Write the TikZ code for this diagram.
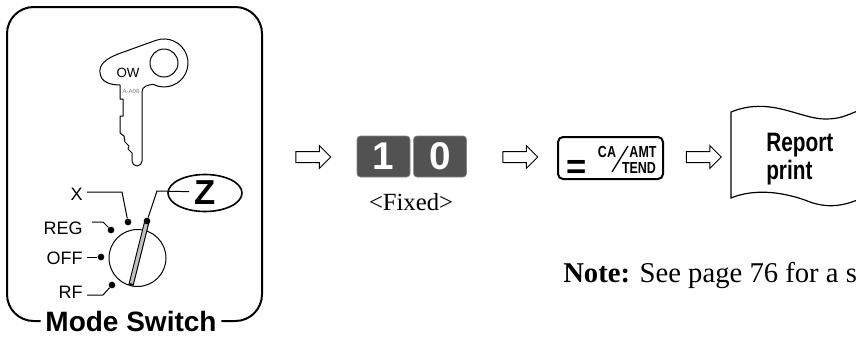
\documentclass[tikz,border=0pt]{standalone}
\usepackage{fontspec}
\setmainfont{Liberation Serif}
\newfontfamily\arialsf{Liberation Sans}
\newfontfamily\narrowsf[FakeStretch=0.78]{Liberation Sans}
\usetikzlibrary{positioning,shapes.geometric,shapes.arrows}
\definecolor{keygray}{RGB}{82,82,82}
\definecolor{levergray}{RGB}{192,192,192}
\tikzset{
  frame/.style={line width=1.5pt,rounded corners=20pt},
  keyline/.style={line width=0.75pt,fill=white,line join=round},
  wire/.style={line width=0.75pt},
  seldot/.style={circle,fill,inner sep=0pt,minimum size=5pt},
  modelbl/.style={font=\arialsf\fontsize{13.5}{13.5}\selectfont,inner sep=0pt,anchor=east},
  openarrow/.style={single arrow,draw,line width=0.75pt,fill=white,inner xsep=0pt,inner ysep=3.75pt,
                    minimum height=26.25pt,single arrow head extend=4.5pt},
  numkey/.style={rounded corners=2.5pt,fill=keygray,draw=keygray!70,text=white,inner sep=0pt,
                 minimum width=39.75pt,minimum height=30.75pt,
                 font=\arialsf\bfseries\fontsize{29}{29}\selectfont},
  fnkey/.style={draw,line width=1.5pt,rounded corners=3.75pt,minimum width=78.75pt,minimum height=31.5pt,inner sep=0pt},
  legend/.style={font=\narrowsf\bfseries\fontsize{12}{12}\selectfont,inner sep=0pt,anchor=base}
}

\begin{document}
\begin{tikzpicture}[x=0.75pt,y=-0.75pt]
  \useasboundingbox (0,0) rectangle (856,336);
  \clip (0,0) rectangle (856,336);

  % mode switch panel
  \node[font=\arialsf\bfseries\fontsize{21}{21}\selectfont,inner sep=0pt] (mslbl) at (131,321) {Mode Switch};
  \draw[frame] ([xshift=-3.5pt]mslbl.west) -- (7,321) -- (7,7) -- (262,7) -- (262,321) -- ([xshift=3.5pt]mslbl.east);

  % key
  \draw[keyline] (120,88) -- (120,85) .. controls (110,85) and (101,82) .. (100,73)
    .. controls (99,64) and (106,59) .. (118,54) -- (155.8,40.4)
    arc[start angle=-110,end angle=117,radius=24]
    .. controls (148,85) and (142,86) .. (142,92) -- (142,161)
    arc[start angle=0,end angle=180,radius=5]
    -- (132,153) -- (128,149) -- (129,146) -- (125,142) -- (124,136) -- (120,133)
    -- (120,116) -- (123,116) -- (123,99) -- (120,99) -- cycle;
  \draw[keyline] (164,63) circle[radius=14];
  \node[font=\arialsf\fontsize{10}{10}\selectfont,inner sep=0pt] (ow) at (128,73) {OW};
  \node[font=\arialsf\fontsize{4.5}{4.5}\selectfont,text=gray,inner sep=0pt] (serial) at (131,91) {A-A08};

  % dial and lever
  \node[circle,draw,line width=0.75pt,minimum size=42.75pt,inner sep=0pt] (dial) at (137.5,258) {};
  \draw[line width=4pt] (131,285) -- (147,221);
  \draw[line width=2.4pt,levergray] (131.4,283.5) -- (146.6,222.5);
  \node[seldot] (lvTop) at (147,221) {};

  \node[seldot] (dotX) at (128,222) {};
  \node[seldot] (dotREG) at (111,230) {};
  \node[seldot] (dotOFF) at (101,257) {};
  \node[seldot] (dotRF) at (112,285) {};

  \node[modelbl] (lbX) at (83,194) {X};
  \node[modelbl] (lbREG) at (83,228) {REG};
  \node[modelbl] (lbOFF) at (83,258) {OFF};
  \node[modelbl] (lbRF) at (83,292) {RF};

  \draw[wire] ([shift={(4,-2)}]lbX.east) -- (122,192) -- (dotX);
  \draw[wire] ([shift={(9,-6)}]lbREG.east) -- (103,222) -- (dotREG);
  \draw[wire] ([shift={(4,-1)}]lbOFF.east) -- (dotOFF);
  \draw[wire] ([shift={(4,3)}]lbRF.east) -- (103,295) -- (dotRF);

  \node[ellipse,draw,line width=1.2pt,minimum width=55.5pt,minimum height=27.75pt,inner sep=0pt,
        font=\arialsf\bfseries\fontsize{26}{26}\selectfont] (zsw) at (205,193) {Z};
  \draw[wire] (lvTop) -- (157,191) -- ([xshift=-12pt,yshift=1pt]zsw.center);

  % key sequence
  \node[openarrow] (arrA) at (310.5,157) {};
  \node[numkey] (key1) at (383.5,156.5) {1};
  \node[numkey,right=2.25pt of key1] (key0) {0};
  \node[font=\fontsize{18.5}{18.5}\selectfont,inner sep=0pt] (fixed) at (411,202) {<Fixed>};
  \node[openarrow] (arrB) at (517.5,157) {};

  \node[fnkey] (cakey) at (610.5,158) {};
  \node[font=\arialsf\bfseries\fontsize{26}{26}\selectfont,inner sep=0pt,anchor=base] (eqsign) at (577,178) {=};
  \node[legend] (ca) at (607,157) {CA};
  \node[legend] (amt) at (643,157) {AMT};
  \node[legend] (tend) at (639,173) {TEND};
  \draw[line width=1pt] (612,172) -- (628,146);
  \node[openarrow] (arrC) at (701,157) {};

  % report slip
  \draw[line width=0.9pt,fill=white] (860,110) .. controls (845,116) and (840,119) .. (825,119)
    .. controls (800,119) and (770,96) .. (731,112) -- (731,198)
    .. controls (755,188) and (785,192) .. (810,202) .. controls (830,209) and (845,205) .. (860,199);
  \node[font=\narrowsf\bfseries\fontsize{20}{21.5}\selectfont,align=left,anchor=west,inner sep=0pt] (rpt) at (766,159) {Report\\print};

  \node[font=\fontsize{21.5}{21.5}\selectfont,anchor=base west,inner sep=0pt] (note) at (563,282) {\textbf{Note:} See page 76 for a s};
\end{tikzpicture}
\end{document}
